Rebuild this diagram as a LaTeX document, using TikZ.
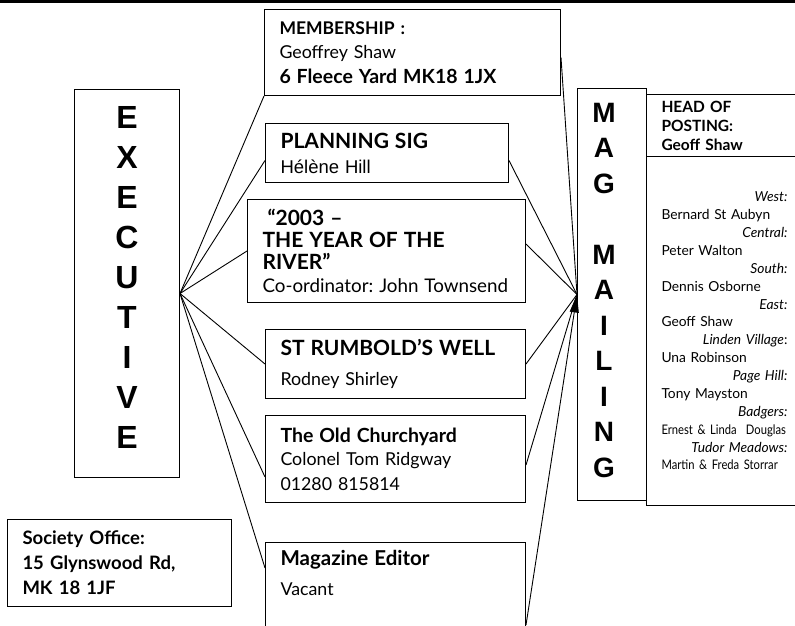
\documentclass[tikz,border=0pt]{standalone}
\usepackage{fontspec}
\setmainfont{Lato}
\newfontfamily\arialfont{Liberation Sans}
\newfontfamily\narrowfont[FakeStretch=0.85]{Lato}
\newcommand{\hdsize}[1]{\bfseries\fontsize{#1}{23}\selectfont}
\usetikzlibrary{arrows.meta}
\frenchspacing

\begin{document}
\begin{tikzpicture}[x=1pt, y=-1pt,
	box/.style={draw, line width=1pt, rectangle, anchor=north west, inner xsep=15pt, inner ysep=0pt, align=left},
	midtext/.style={font=\fontsize{17.8}{23}\selectfont},
	bigletters/.style={anchor=north, inner sep=0pt, align=center},
	wire/.style={line width=0.9pt}]
	\clip (0,0) rectangle (795,625);
	% top rule
	\draw[line width=2.5pt] (0,1.5) -- (795,1.5);
	% executive
	\node[box, minimum width=105, minimum height=388] (exec) at (74,89) {};
	\node[bigletters, font=\arialfont\bfseries\fontsize{32}{40}\selectfont] (execword) at (127,106.5)
		{E\\X\\E\\C\\U\\T\\I\\V\\E};
	\coordinate (exechub) at ([yshift=-10pt]exec.east);
	% mag mailing
	\node[box, minimum width=69, minimum height=412] (mag) at (577,88) {};
	\node[bigletters, font=\arialfont\bfseries\fontsize{28}{35.5}\selectfont] (magword) at (604,103)
		{M\\A\\G\\[35.5pt]M\\A\\I\\L\\I\\N\\G};
	% middle boxes
	\node[box, midtext, text width=266, minimum height=86] (memb) at (264,9)
		{{\hdsize{17.5}MEMBERSHIP :}\\[1pt]Geoffrey Shaw\\[2pt]{\hdsize{19.5}6 Fleece Yard MK18 1JX}};
	\node[box, midtext, text width=213, minimum height=59] (plan) at (265,123)
		{{\hdsize{21}PLANNING SIG}\\[2pt]{\arialfont\fontsize{18.5}{23}\selectfont Hélène Hill}};
	\node[box, midtext, text width=248, minimum height=103] (year) at (247,199)
		{\hspace*{5pt}{\hdsize{21}“2003 –}\\[-1pt]{\hdsize{21}THE YEAR OF THE}\\[-1pt]{\hdsize{21}RIVER”}\\
		\makebox[248pt][l]{\fontsize{18.8}{23}\selectfont Co-ordinator: John Townsend}};
	\node[box, midtext, text width=230, minimum height=69] (rumb) at (265,329)
		{{\hdsize{21}ST RUMBOLD’S WELL}\\[7pt]Rodney Shirley};
	\node[box, midtext, text width=230, minimum height=87] (church) at (265,415)
		{{\hdsize{19.5}The Old Churchyard}\\Colonel Tom Ridgway\\[2pt]01280 815814};
	\node[box, midtext, text width=230, inner ysep=8pt, text depth=75pt] (editor) at (265,542)
		{{\hdsize{20.5}Magazine Editor}\\[7pt]Vacant};
	% office
	\node[box, text width=194, minimum height=87, font=\bfseries\fontsize{18.5}{25}\selectfont] (office) at (7,519)
		{Society Office:\\15 Glynswood Rd,\\MK 18 1JF};
	% posting
	\node[box, text width=130, minimum height=62, font=\bfseries\fontsize{15.5}{19}\selectfont] (head) at (646,94)
		{HEAD OF\\POSTING:\\Geoff Shaw};
	\node[box, text width=126, minimum height=349, font=\fontsize{13.8}{17.87}\selectfont] (post) at (646,156)
		{\hspace*{\fill}\textit{West:}\\
		Bernard St Aubyn\\
		\hspace*{\fill}\textit{Central:}\\
		Peter Walton\\
		\hspace*{\fill}\textit{South:}\\
		Dennis Osborne\\
		\hspace*{\fill}\textit{East:}\\
		Geoff Shaw\\
		\hspace*{\fill}\textit{Linden Village}:\\
		Una Robinson\\
		\hspace*{\fill}\textit{Page Hill:}\\
		Tony Mayston\\
		\hspace*{\fill}\textit{Badgers:}\\
		\makebox[126pt][l]{\narrowfont\fontsize{13.2}{17.87}\selectfont Ernest \& Linda\ \ Douglas}\\
		\hspace*{\fill}\textit{Tudor Meadows:}\\
		\makebox[126pt][l]{\narrowfont\fontsize{13.2}{17.87}\selectfont Martin \& Freda Storrar}};
	% wires from executive
	\draw[wire] (exechub) -- (memb.south west);
	\draw[wire] (exechub) -- ([yshift=-7.5pt]plan.west);
	\draw[wire] (exechub) -- (year.west);
	\draw[wire] (exechub) -- (rumb.west);
	\draw[wire] (exechub) -- ([yshift=-18pt]church.west);
	\draw[wire] (exechub) -- ([yshift=-26pt]editor.north west);
	% wires into mag mailing
	\coordinate (edfoot) at ([yshift=-83pt]editor.north east);
	\draw[wire] ([yshift=-5pt]memb.east) -- (mag.west);
	\draw[wire] ([yshift=-7.5pt]plan.east) -- (mag.west);
	\draw[wire] ([yshift=7pt]year.east) -- (mag.west);
	\draw[wire] (rumb.east) -- (mag.west);
	\draw[wire] ([yshift=-6pt]church.east) -- (mag.west);
	\draw[wire, -{Triangle[length=18pt, width=9pt]}] (edfoot) -- (mag.west);
\end{tikzpicture}
\end{document}
